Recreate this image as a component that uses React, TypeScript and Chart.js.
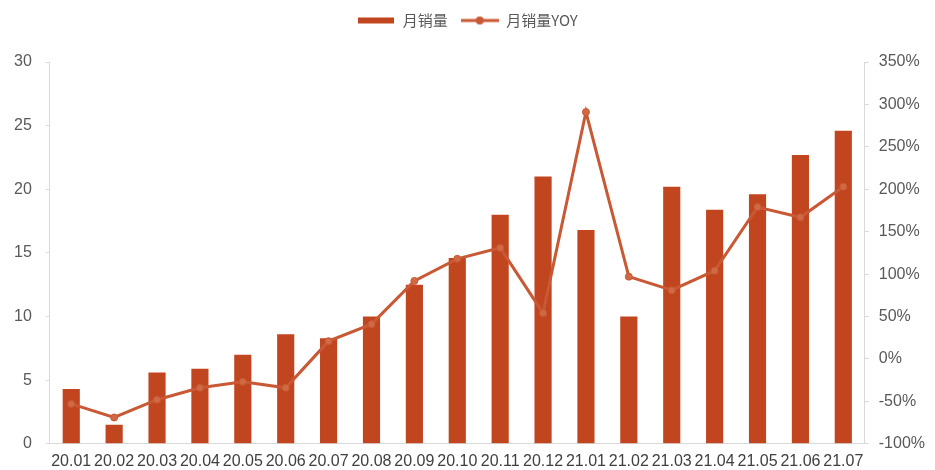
import React, { useEffect, useRef } from "react";
import { Chart, registerables } from "chart.js";

Chart.register(...registerables);

const categories = [
  "20.01", "20.02", "20.03", "20.04", "20.05", "20.06", "20.07", "20.08", "20.09", "20.10",
  "20.11", "20.12", "21.01", "21.02", "21.03", "21.04", "21.05", "21.06", "21.07",
];
const monthlySales = [4.3, 1.5, 5.6, 5.9, 7.0, 8.6, 8.3, 10.0, 12.5, 14.6, 18.0, 21.0, 16.8, 10.0, 20.2, 18.4, 19.6, 22.7, 24.6];
const salesYoY = [-53, -69, -48, -34, -27, -34, 21, 41, 92, 118, 131, 54, 291, 97, 81, 104, 179, 167, 203];
const leftTicks = [0, 5, 10, 15, 20, 25, 30];
const rightTicks = [-100, -50, 0, 50, 100, 150, 200, 250, 300, 350];
const seriesNames = ["月销量", "月销量YOY"];

const BAR_COLOR = "#C1461F";
const LINE_COLOR = "#C95834";
const TEXT_COLOR = "#595959";
const AXIS_COLOR = "#D9D9D9";

function makeBarIcon(): HTMLCanvasElement {
  const c = document.createElement("canvas");
  c.width = 36;
  c.height = 8;
  const ctx = c.getContext("2d")!;
  ctx.fillStyle = BAR_COLOR;
  ctx.fillRect(0, 1, 36, 6);
  return c;
}

function makeLineIcon(): HTMLCanvasElement {
  const c = document.createElement("canvas");
  c.width = 38;
  c.height = 10;
  const ctx = c.getContext("2d")!;
  ctx.strokeStyle = LINE_COLOR;
  ctx.lineWidth = 3;
  ctx.beginPath();
  ctx.moveTo(0, 5);
  ctx.lineTo(38, 5);
  ctx.stroke();
  ctx.fillStyle = LINE_COLOR;
  ctx.beginPath();
  ctx.arc(19, 5, 4, 0, Math.PI * 2);
  ctx.fill();
  return c;
}

const legendSpacer = {
  id: "legendSpacer",
  beforeInit(chart: any) {
    const legend = chart.legend;
    if (!legend) return;
    const origFit = legend.fit;
    legend.fit = function () {
      origFit.call(this);
      this.height += 24;
    };
  },
};

export default function App() {
  const ref = useRef<HTMLCanvasElement | null>(null);

  useEffect(() => {
    if (!ref.current) return;
    const barIcon = makeBarIcon();
    const lineIcon = makeLineIcon();
    const chart = new Chart(ref.current, {
      type: "bar",
      plugins: [legendSpacer],
      data: {
        labels: categories,
        datasets: [
          {
            type: "line",
            label: seriesNames[1],
            data: salesYoY,
            yAxisID: "y1",
            borderColor: LINE_COLOR,
            backgroundColor: LINE_COLOR,
            borderWidth: 3,
            pointRadius: 3.5,
            pointBackgroundColor: "#D06A45",
            pointBorderColor: LINE_COLOR,
            pointBorderWidth: 1,
            tension: 0,
          } as any,
          {
            type: "bar",
            label: seriesNames[0],
            data: monthlySales,
            yAxisID: "y",
            backgroundColor: BAR_COLOR,
            borderWidth: 0,
            categoryPercentage: 1,
            barPercentage: 0.4,
          },
        ],
      },
      options: {
        responsive: false,
        animation: false,
        layout: { padding: { left: 0, right: 0, top: 0, bottom: 0 } },
        plugins: {
          tooltip: { enabled: false },
          legend: {
            position: "top",
            labels: {
              usePointStyle: true,
              pointStyleWidth: 38,
              boxHeight: 10,
              padding: 13,
              color: TEXT_COLOR,
              font: { family: "'Noto Sans CJK SC'", size: 15 },
              generateLabels: () => [
                {
                  text: seriesNames[0],
                  fillStyle: BAR_COLOR,
                  strokeStyle: BAR_COLOR,
                  lineWidth: 0,
                  pointStyle: barIcon as any,
                  hidden: false,
                  datasetIndex: 1,
                  fontColor: TEXT_COLOR,
                },
                {
                  text: seriesNames[1],
                  fillStyle: LINE_COLOR,
                  strokeStyle: LINE_COLOR,
                  lineWidth: 0,
                  pointStyle: lineIcon as any,
                  hidden: false,
                  datasetIndex: 0,
                  fontColor: TEXT_COLOR,
                },
              ],
            },
          },
        },
        scales: {
          x: {
            grid: { display: false, drawOnChartArea: false },
            border: { display: true, color: AXIS_COLOR, width: 1 },
            ticks: {
              color: "#404040",
              font: { family: "'Liberation Sans'", size: 16 },
              autoSkip: false,
              maxRotation: 0,
              minRotation: 0,
              padding: 0,
            },
          },
          y: {
            position: "left",
            min: 0,
            max: 30,
            afterBuildTicks: (axis: any) => {
              axis.ticks = leftTicks.map((v) => ({ value: v }));
            },
            grid: { drawOnChartArea: false, tickLength: 4, color: AXIS_COLOR },
            border: { display: true, color: AXIS_COLOR, width: 1 },
            ticks: {
              color: TEXT_COLOR,
              font: { family: "'Liberation Sans'", size: 16 },
              padding: 14,
            },
          },
          y1: {
            position: "right",
            min: -100,
            max: 350,
            afterBuildTicks: (axis: any) => {
              axis.ticks = rightTicks.map((v) => ({ value: v }));
            },
            grid: { drawOnChartArea: false, tickLength: 4, color: AXIS_COLOR },
            border: { display: true, color: AXIS_COLOR, width: 1 },
            ticks: {
              color: TEXT_COLOR,
              font: { family: "'Liberation Sans'", size: 16 },
              padding: 10,
              callback: (v: any) => `${v}%`,
            },
          },
        },
      },
    });
    return () => chart.destroy();
  }, []);

  return (
    <div style={{ position: "fixed", left: 0, top: 0, width: 935, height: 471, background: "#fff" }}>
      <canvas ref={ref} width={935} height={471} style={{ display: "block", width: 935, height: 471 }} />
    </div>
  );
}
